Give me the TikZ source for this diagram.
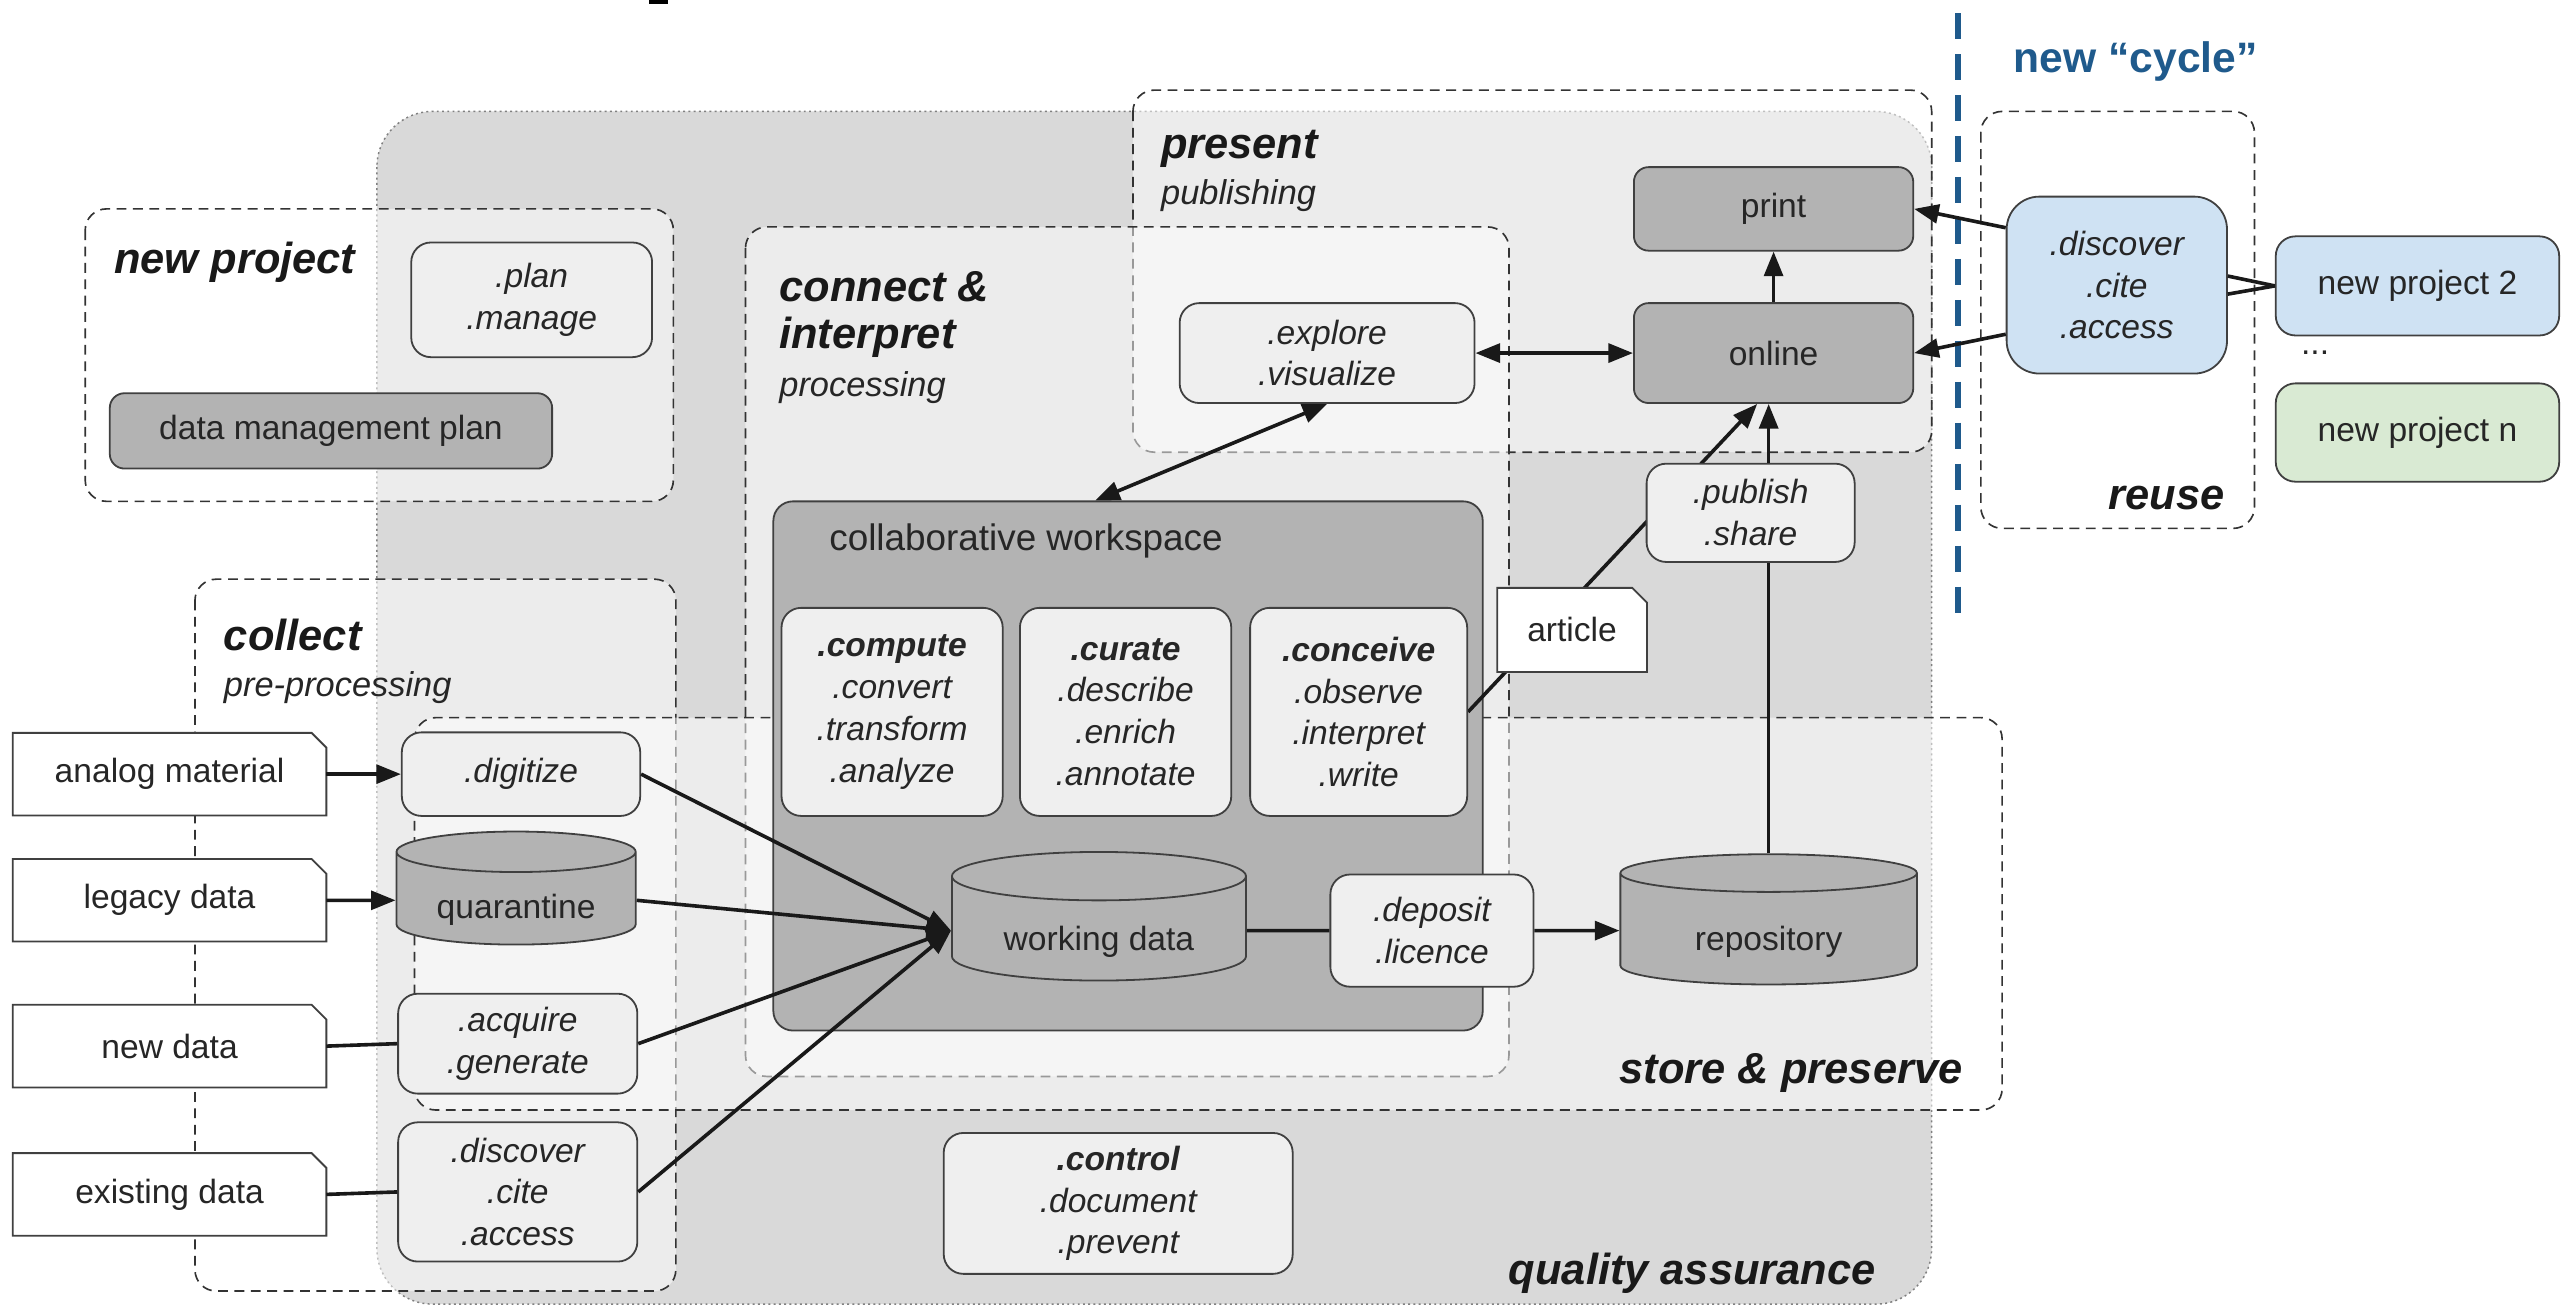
\documentclass[tikz,border=0pt]{standalone}
\usepackage{fontspec}
\setmainfont{Liberation Sans}
\usetikzlibrary{shapes.geometric}
\usetikzlibrary{arrows.meta}

\definecolor{qagray}{HTML}{D9D9D9}
\definecolor{lightfill}{HTML}{EFEFEF}
\definecolor{darkfill}{HTML}{B3B3B3}
\definecolor{reuseblue}{HTML}{CFE2F3}
\definecolor{reusegreen}{HTML}{D9EAD3}
\definecolor{cycleblue}{HTML}{1F5A8C}

\pgfdeclarelayer{regions}
\pgfdeclarelayer{under}
\pgfsetlayers{regions,under,main}

\tikzset{
% text
txt/.style={font=\fontsize{20.5}{25.5}\selectfont, text=black!85, align=center, inner sep=1pt},
itxt/.style={txt, font=\fontsize{20.5}{25.5}\selectfont\itshape},
heading/.style={font=\fontsize{26.5}{30}\selectfont\bfseries\itshape, text=black!90, anchor=base west, inner sep=0pt},
subhead/.style={font=\fontsize{21}{25}\selectfont\itshape, text=black!85, anchor=base west, inner sep=0pt},
% boxes
region/.style={draw=black!80, line width=1pt, dash pattern=on 6pt off 4pt, rounded corners=13pt, fill=white, fill opacity=0.5},
qa/.style={draw=black!50, line width=0.9pt, dash pattern=on 1.2pt off 2pt, fill=qagray, rounded corners=34pt},
lbox/.style={itxt, draw=black!75, line width=1.1pt, fill=lightfill, rounded corners=12pt},
dbox/.style={txt, draw=black!75, line width=1.1pt, fill=darkfill, rounded corners=9pt},
cyl/.style={txt, cylinder, shape border rotate=90, aspect=0.25, draw=black!75, line width=1.1pt, fill=darkfill},
docbox/.style={txt, minimum width=191, minimum height=50},
docline/.style={draw=black!75, line width=1.1pt, fill=white},
% connectors
conn/.style={line width=2.2pt, black!90},
arr/.style={conn, -{Triangle[length=15pt,width=11.5pt]}},
biarr/.style={conn, {Triangle[length=15pt,width=11.5pt]}-{Triangle[length=15pt,width=11.5pt]}},
}

\begin{document}
\begin{tikzpicture}[x=1pt,y=-1pt]
\useasboundingbox (0,0) rectangle (1568,797);

\begin{pgfonlayer}{regions}
% quality assurance
\draw[qa] (230,68) rectangle (1179,796);
% dashed stages
\draw[region] (52,127.5) rectangle (411,306);
\draw[region] (119,353.5) rectangle (412.5,788);
\draw[region] (691.5,55) rectangle (1179,276);
\draw[region] (455,138.5) rectangle (921,657);
\draw[region] (253,438) rectangle (1222,677.5);
\draw[region] (1209,68) rectangle (1376,322.5);
% new cycle
\draw[cycleblue, line width=4pt, dash pattern=on 16pt off 9pt] (1195,8) -- (1195,380);
\node[draw=black!75, line width=1.1pt, fill=darkfill, rounded corners=12pt, minimum width=433, minimum height=323] (workspace) at (688.5,467.5) {};
\end{pgfonlayer}

\fill (396,0) rectangle (408,2.5);

% new project
\node[heading] (np-title) at (69.5,167) {new project};
\node[lbox, minimum width=147, minimum height=70] (plan) at (324.5,183) {.plan\\.manage};
\node[dbox, minimum width=270, minimum height=46] (dmp) at (202,263) {data management plan};

% collect
\node[heading] (collect-title) at (136.5,397) {collect};
\node[subhead] (collect-sub) at (136.5,425) {pre-processing};
\node[docbox] (analog) at (103.5,472.5) {analog material};
\node[docbox] (legacy) at (103.5,549.5) {legacy data};
\node[docbox] (newdata) at (103.5,638.5) {new data};
\node[docbox] (existing) at (103.5,729) {existing data};
\node[lbox, minimum width=145.5, minimum height=51] (digitize) at (318,472.5) {.digitize};
\node[cyl, minimum width=146, minimum height=69] (quarantine) at (315,549.5) {\raisebox{-6pt}[\height][\depth]{quarantine}};
\node[lbox, minimum width=146, minimum height=61] (acquire) at (316,637) {.acquire\\.generate};
\node[lbox, minimum width=146, minimum height=85] (gather) at (316,727.5) {.discover\\.cite\\.access};

% connect & interpret
\node[heading] (ci-title) at (475.5,184) {connect \&};
\node[heading] (ci-title2) at (475.5,212.5) {interpret};
\node[subhead] (ci-sub) at (475.5,242) {processing};
\node[txt, font=\fontsize{22.5}{27}\selectfont, anchor=base west, inner sep=0pt] (ws-label) at (506,336) {collaborative workspace};
\node[lbox, minimum width=135, minimum height=127] (compute) at (544.5,434.5) {\textbf{.compute}\\.convert\\.transform\\.analyze};
\node[lbox, minimum width=129, minimum height=127] (curate) at (687,434.5) {\textbf{.curate}\\.describe\\.enrich\\.annotate};
\node[lbox, minimum width=132.5, minimum height=127] (conceive) at (829.25,434.5) {\textbf{.conceive}\\.observe\\.interpret\\.write};
\node[cyl, minimum width=179.5, minimum height=78.5] (working) at (670.75,568) {\raisebox{-7pt}[\height][\depth]{working data}};

% store & preserve
\node[lbox, minimum width=124, minimum height=68.5] (deposit) at (874,568) {.deposit\\.licence};
\node[cyl, minimum width=181, minimum height=79.5] (repository) at (1079.5,568) {\raisebox{-7pt}[\height][\depth]{repository}};
\node[heading, anchor=base east] (sp-title) at (1198,661.5) {store \& preserve};

% present
\node[heading] (present-title) at (708.5,97) {present};
\node[subhead] (present-sub) at (708.5,125) {publishing};
\node[dbox, minimum width=170.5, minimum height=51] (print) at (1082.5,127.5) {print};
\node[dbox, minimum width=170.5, minimum height=61] (online) at (1082.5,215.5) {online};
\node[lbox, minimum width=180, minimum height=61] (explore) at (810,215.5) {.explore\\.visualize};
\node[lbox, minimum width=127, minimum height=60] (publish) at (1068.5,313) {.publish\\.share};
\node[docbox, minimum width=91, minimum height=51] (article) at (959.5,384.5) {article};

% quality assurance
\node[lbox, minimum width=213, minimum height=86] (control) at (682.5,734.5) {\textbf{.control}\\.document\\.prevent};
\node[heading, anchor=base east] (qa-title) at (1145,784) {quality assurance};

% reuse
\node[txt, font=\fontsize{26}{30}\selectfont\bfseries, text=cycleblue, anchor=base west, inner sep=0pt] (cycle-title) at (1229,44) {new “cycle”};
\node[lbox, fill=reuseblue, rounded corners=20pt, minimum width=134.5, minimum height=108] (reuse-box) at (1292,174) {.discover\\.cite\\.access};
\node[dbox, fill=reuseblue, rounded corners=12pt, minimum width=173, minimum height=60.5] (np2) at (1475.5,174.5) {new project 2};
\node[txt] (dots) at (1413,215) {...};
\node[dbox, fill=reusegreen, rounded corners=12pt, minimum width=173, minimum height=60] (npn) at (1475.5,264) {new project n};
\node[heading, anchor=base east] (reuse-title) at (1358,311) {reuse};

% connectors
\draw[arr] (analog.east) -- (digitize.west);
\draw[arr] (legacy.east) -- (quarantine.west);
\draw[conn] (newdata.east) -- (acquire.west);
\draw[conn] (existing.east) -- (gather.west);
\foreach \src in {digitize,quarantine,acquire,gather}
  \draw[arr] (\src.east) -- (working.west);
\draw[conn] (working.east) -- (deposit.west);
\draw[arr] (deposit.east) -- (repository.west);
\draw[conn] (repository.north) -- (repository.north |- publish.south);
\draw[arr] (repository.north |- publish.north) -- (repository.north |- online.south);
\draw[arr] (online.north) -- (print.south);
\draw[biarr] (explore.east) -- (online.west);
\draw[biarr] (explore.south) -- ([xshift=-20pt]workspace.north);
\draw[arr] ([yshift=35pt]reuse-box.west) -- (print.east);
\draw[arr] ([yshift=-30pt]reuse-box.west) -- (online.east);
\draw[conn] ([yshift=5.5pt]reuse-box.east) -- (np2.west);
\draw[conn] ([yshift=-5.5pt]reuse-box.east) -- (np2.west);

\begin{pgfonlayer}{under}
\draw[arr] (conceive.east) -- ([xshift=-10pt]online.south);
% document outlines
\foreach \d in {analog,legacy,newdata,existing,article}
  \draw[docline] (\d.south west) -- (\d.north west) -- ([xshift=-9pt]\d.north east)
    -- ([yshift=-9pt]\d.north east) -- (\d.south east) -- cycle;
\end{pgfonlayer}
\end{tikzpicture}
\end{document}
